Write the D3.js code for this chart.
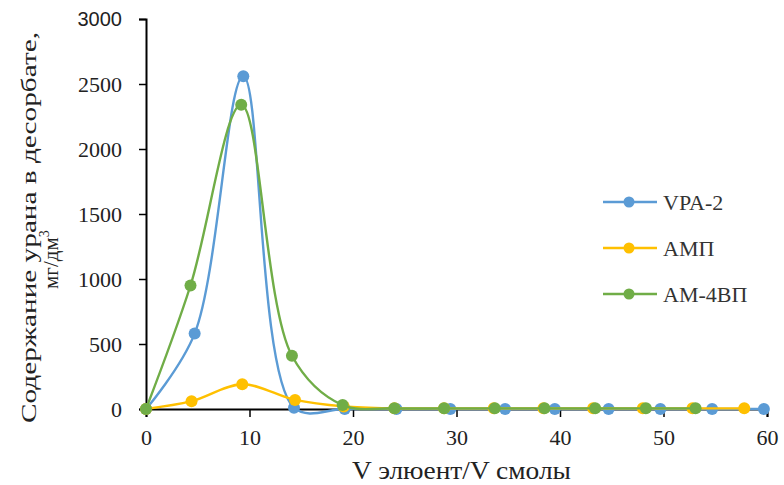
<!DOCTYPE html>
<html>
<head>
<meta charset="utf-8">
<script src="https://cdn.jsdelivr.net/npm/d3@7"></script>
<style>
  body { margin: 0; background: #fff; }
</style>
</head>
<body>
<div id="chart"></div>
<script>
// Data
const vpaX = [0, 4.7, 9.4, 14.3, 19.2, 24.2, 29.4, 34.7, 39.5, 44.7, 49.7, 54.7, 59.7];
const vpaY = [0, 580, 2560, 10, 0, 0, 0, 0, 0, 0, 0, 0, 0];
const ampX = [0, 4.4, 9.3, 14.4, 19.1, 24.0, 28.8, 33.6, 38.4, 43.2, 48.0, 52.8, 57.8];
const ampY = [0, 60, 190, 70, 20, 5, 5, 5, 5, 5, 5, 5, 5];
const am4X = [0, 4.3, 9.2, 14.1, 19.0, 24.0, 28.8, 33.7, 38.5, 43.4, 48.3, 53.1];
const am4Y = [0, 950, 2340, 410, 30, 5, 5, 5, 5, 5, 5, 5];
const xTicks = [0, 10, 20, 30, 40, 50, 60];
const yTicks = [0, 500, 1000, 1500, 2000, 2500, 3000];

const series = [
    { name: 'VPA-2', xs: vpaX, ys: vpaY, color: '#5B9BD5' },
    { name: 'АМП', xs: ampX, ys: ampY, color: '#FFC000' },
    { name: 'АМ-4ВП', xs: am4X, ys: am4Y, color: '#70AD47' }
];

const SERIF = '"Liberation Serif", "Times New Roman", serif';
const SANS = '"Liberation Sans", Arial, sans-serif';

const width = 784, height = 485;
const svg = d3.select('#chart').append('svg')
    .attr('width', width)
    .attr('height', height);

const x = d3.scaleLinear().domain([0, 60]).range([146, 767]);
const y = d3.scaleLinear().domain([0, 3000]).range([409, 19]);

// Axes
const xAxis = svg.append('g')
    .attr('transform', `translate(0,${y(0)})`)
    .call(d3.axisBottom(x).tickValues(xTicks).tickFormat(d3.format('d')).tickSize(8).tickPadding(13));
const yAxis = svg.append('g')
    .attr('transform', `translate(${x(0)},0)`)
    .call(d3.axisLeft(y).tickValues(yTicks).tickFormat(d3.format('d')).tickSize(7).tickPadding(17));

[xAxis, yAxis].forEach(a => {
    a.attr('font-family', null);
    a.select('.domain').attr('stroke', '#000').attr('stroke-width', 2);
    a.selectAll('.tick line').attr('stroke', '#000').attr('stroke-width', 1.5);
    a.selectAll('.tick text')
        .attr('fill', '#222')
        .style('font-family', SERIF)
        .style('font-size', '22px');
});
xAxis.selectAll('.tick text').attr('dy', '0.68em');
// the top label in the reference is set in a sans face
yAxis.selectAll('.tick text')
    .filter(d => d === 3000)
    .style('font-family', SANS)
    .style('font-size', '20px');

// Lines and markers
const line = d3.line()
    .x(d => x(d[0]))
    .y(d => y(d[1]))
    .curve(d3.curveCatmullRom.alpha(0.5));

series.forEach(s => {
    const pts = s.xs.map((v, i) => [v, s.ys[i]]);
    svg.append('path')
        .datum(pts)
        .attr('d', line)
        .attr('fill', 'none')
        .attr('stroke', s.color)
        .attr('stroke-width', 2.4);
    svg.append('g').selectAll('circle')
        .data(pts)
        .enter()
        .append('circle')
        .attr('cx', d => x(d[0]))
        .attr('cy', d => y(d[1]))
        .attr('r', 6)
        .attr('fill', s.color);
});

// Legend
const legend = svg.append('g').attr('transform', 'translate(603,202)');
series.forEach((s, i) => {
    const g = legend.append('g').attr('transform', `translate(0,${i * 46})`);
    g.append('line')
        .attr('x1', 0).attr('x2', 54)
        .attr('stroke', s.color).attr('stroke-width', 2.4);
    g.append('circle').attr('cx', 26).attr('r', 5.5).attr('fill', s.color);
    g.append('text')
        .attr('x', 60).attr('dy', '0.35em')
        .style('font-family', SERIF)
        .style('font-size', '22px')
        .attr('fill', '#333')
        .text(s.name);
});

// Axis titles
svg.append('text')
    .attr('x', 352).attr('y', 479)
    .attr('textLength', 219)
    .attr('lengthAdjust', 'spacingAndGlyphs')
    .style('font-family', SERIF)
    .style('font-size', '26px')
    .attr('fill', '#222')
    .text('V элюент/V смолы');

const yTitle = svg.append('text')
    .attr('transform', 'rotate(-90)')
    .style('font-family', SERIF)
    .style('font-size', '21px')
    .attr('fill', '#222');
yTitle.append('tspan')
    .attr('x', -423).attr('y', 36)
    .attr('textLength', 391)
    .attr('lengthAdjust', 'spacingAndGlyphs')
    .text('Содержание урана  в десорбате,');
const t2 = yTitle.append('tspan')
    .attr('x', -289).attr('y', 58);
t2.append('tspan').text('мг/дм');
t2.append('tspan').style('font-size', '14px').attr('dy', '-9').text('3');
</script>
</body>
</html>
